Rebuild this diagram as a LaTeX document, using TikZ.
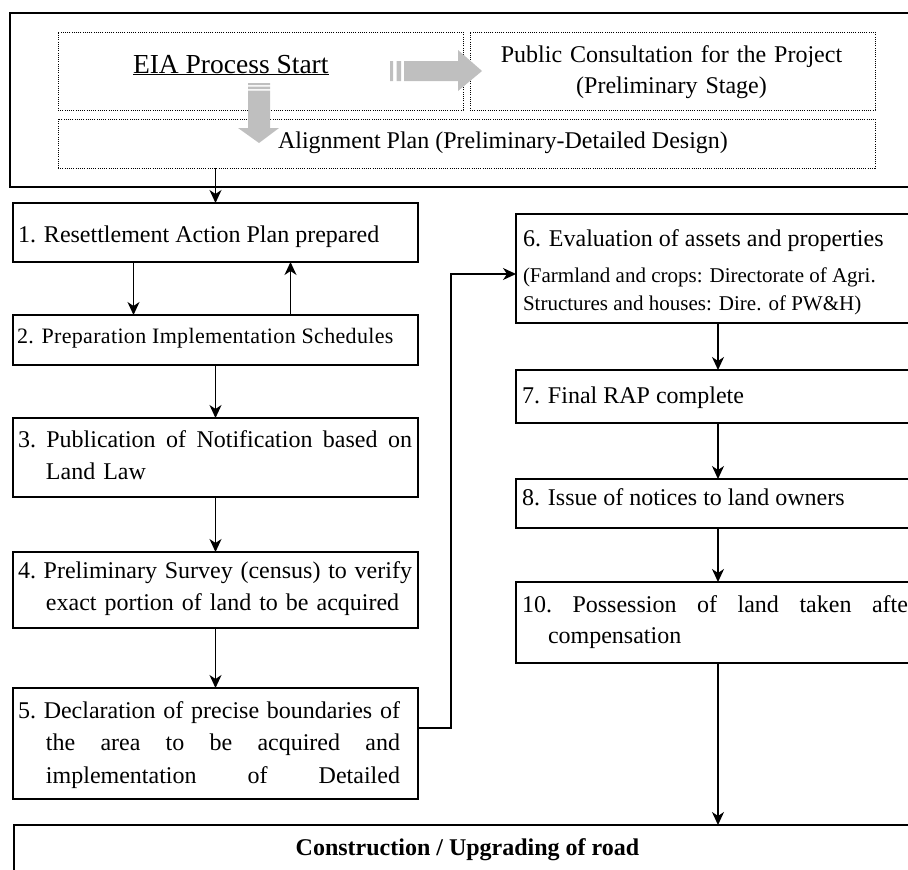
\documentclass[tikz,border=0pt]{standalone}
\usepackage{fontspec}
\setmainfont{Liberation Serif}
\newfontfamily\spacedfont[LetterSpace=1.5]{Liberation Serif}
\usetikzlibrary{arrows.meta}

% one line spread to a given width
\newcommand\spreadline[2]{{\frenchspacing\spaceskip=0pt\relax\xspaceskip=0pt\relax\makebox[#1][s]{#2}}}

\begin{document}
\begin{tikzpicture}[x=1pt,y=-1pt]
	\tikzstyle{every node}=[inner sep=0pt,outer sep=0pt]
	\tikzstyle{frame}=[draw,line width=1.8pt,anchor=north west]
	\tikzstyle{dotbox}=[draw,line width=0.9pt,dash pattern=on 1pt off 1.2pt,anchor=north west]
	\tikzstyle{procbox}=[draw,line width=1.4pt,anchor=north west]
	\tikzstyle{txt}=[anchor=base west,font=\fontsize{24}{32}\selectfont]
	\tikzstyle{smalltxt}=[anchor=base west,font=\fontsize{21}{28}\selectfont]
	\tikzstyle{flow}=[line width=1.3pt,-{Stealth[length=13pt,width=12pt,inset=4pt]}]
	\tikzstyle{bigarrow}=[fill=black!25]

	\useasboundingbox (0,0) rectangle (908,870);
	\clip (0,0) rectangle (908,870);

	%% EIA stage
	\node[frame,minimum width=930pt,minimum height=174pt] (eiaframe) at (10,13) {};
	\node[dotbox,minimum width=405pt,minimum height=78pt] (eia) at (58,32) {};
	\node[dotbox,minimum width=405pt,minimum height=78pt] (public) at (470,32) {};
	\node[dotbox,minimum width=817pt,minimum height=49pt] (align) at (58,119) {};

	\fill[bigarrow] (390,61) rectangle (393,81) (396.5,61) rectangle (401,81);
	\fill[bigarrow] (404,61) -- (458,61) -- (458,50) -- (482,71) -- (458,91) -- (458,81) -- (404,81) -- cycle;
	\fill[bigarrow] (248,83) rectangle (270,85) (248,86.5) rectangle (270,89);
	\fill[bigarrow] (248,90.5) -- (270,90.5) -- (270,128) -- (279,128) -- (259,143) -- (238,128) -- (248,128) -- cycle;

	\node[anchor=base west,font=\fontsize{27.5}{33}\selectfont] (eiatxt) at (133,73) {\underline{EIA Process Start}};
	\node[anchor=base,text width=400pt,align=center,font=\fontsize{24}{31}\selectfont] (pubtxt) at (671.5,62)
		{Public Consultation for the Project\\(Preliminary Stage)};
	\node[txt] (aligntxt) at (278,148) {Alignment Plan (Preliminary-Detailed Design)};

	%% left column
	\node[procbox,minimum width=405pt,minimum height=59pt] (box1) at (13,203) {};
	\node[procbox,minimum width=405pt,minimum height=50pt] (box2) at (13,315) {};
	\node[procbox,minimum width=405pt,minimum height=79pt] (box3) at (13,418) {};
	\node[procbox,minimum width=405pt,minimum height=76pt] (box4) at (13,552) {};
	\node[procbox,minimum width=405pt,minimum height=111pt] (box5) at (13,688) {};

	\node[txt] (t1) at (18,242) {1. Resettlement Action Plan prepared};
	\node[anchor=base west,font=\spacedfont\fontsize{22}{28}\selectfont] (t2) at (17,343) {2. Preparation Implementation Schedules};
	\node[txt,text width=394pt,align=left] (t3) at (18,447)
		{\spreadline{394pt}{3. Publication of Notification based on}\\\hspace*{28pt}Land Law};
	\node[txt,text width=394pt,align=left] (t4) at (18,578)
		{\spreadline{394pt}{4. Preliminary Survey (census) to verify}\\\hspace*{28pt}exact portion of land to be acquired};
	\node[txt,text width=382pt,align=left,font=\fontsize{24}{32.5}\selectfont] (t5) at (18,718)
		{\spreadline{382pt}{5. Declaration of precise boundaries of}\\
		\hspace*{28pt}\spreadline{354pt}{the area to be acquired and}\\
		\hspace*{28pt}\spreadline{354pt}{implementation of Detailed}};

	%% right column
	\node[procbox,minimum width=424pt,minimum height=109pt] (box6) at (516,214) {};
	\node[procbox,minimum width=424pt,minimum height=53pt] (box7) at (516,370) {};
	\node[procbox,minimum width=424pt,minimum height=49pt] (box8) at (516,479) {};
	\node[procbox,minimum width=424pt,minimum height=81pt] (box10) at (516,582) {};

	\node[txt] (t6) at (523,246) {6. Evaluation of assets and properties};
	\node[smalltxt] (t6b) at (523,282) {(Farmland and crops: Directorate of Agri.};
	\node[smalltxt] (t6c) at (523,310) {Structures and houses: Dire. of PW\&H)};
	\node[txt] (t7) at (522,403) {7. Final RAP complete};
	\node[txt] (t8) at (522,505) {8. Issue of notices to land owners};
	\node[txt,text width=394pt,align=left,font=\fontsize{24}{31}\selectfont] (t10) at (522,612)
		{\spreadline{394pt}{10. Possession of land taken after}\\\hspace*{26pt}compensation};

	%% construction
	\node[procbox,minimum width=926pt,minimum height=100pt] (cons) at (14,825) {};
	\node[anchor=base,font=\fontsize{24}{29}\selectfont\bfseries] (constxt) at (467.5,855) {Construction / Upgrading of road};

	%% connectors
	\draw[flow] (box1.north |- align.south) -- (box1.north);
	\draw[flow] ([xshift=-82pt]box1.south) -- ([xshift=-82pt]box2.north);
	\draw[flow] ([xshift=75pt]box2.north) -- ([xshift=75pt]box1.south);
	\draw[flow] (box2.south) -- (box3.north);
	\draw[flow] (box3.south) -- (box4.north);
	\draw[flow] (box4.south) -- (box5.north);
	\draw[flow] ([yshift=15.5pt]box5.east) -- ++(33,0) |- ([yshift=-5.5pt]box6.west);
	\draw[flow] ([xshift=-10pt]box6.south) -- ([xshift=-10pt]box7.north);
	\draw[flow] ([xshift=-10pt]box7.south) -- ([xshift=-10pt]box8.north);
	\draw[flow] ([xshift=-10pt]box8.south) -- ([xshift=-10pt]box10.north);
	\draw[flow] ([xshift=-10pt]box10.south) -- ([xshift=-10pt]box10.south |- cons.north);
\end{tikzpicture}
\end{document}
